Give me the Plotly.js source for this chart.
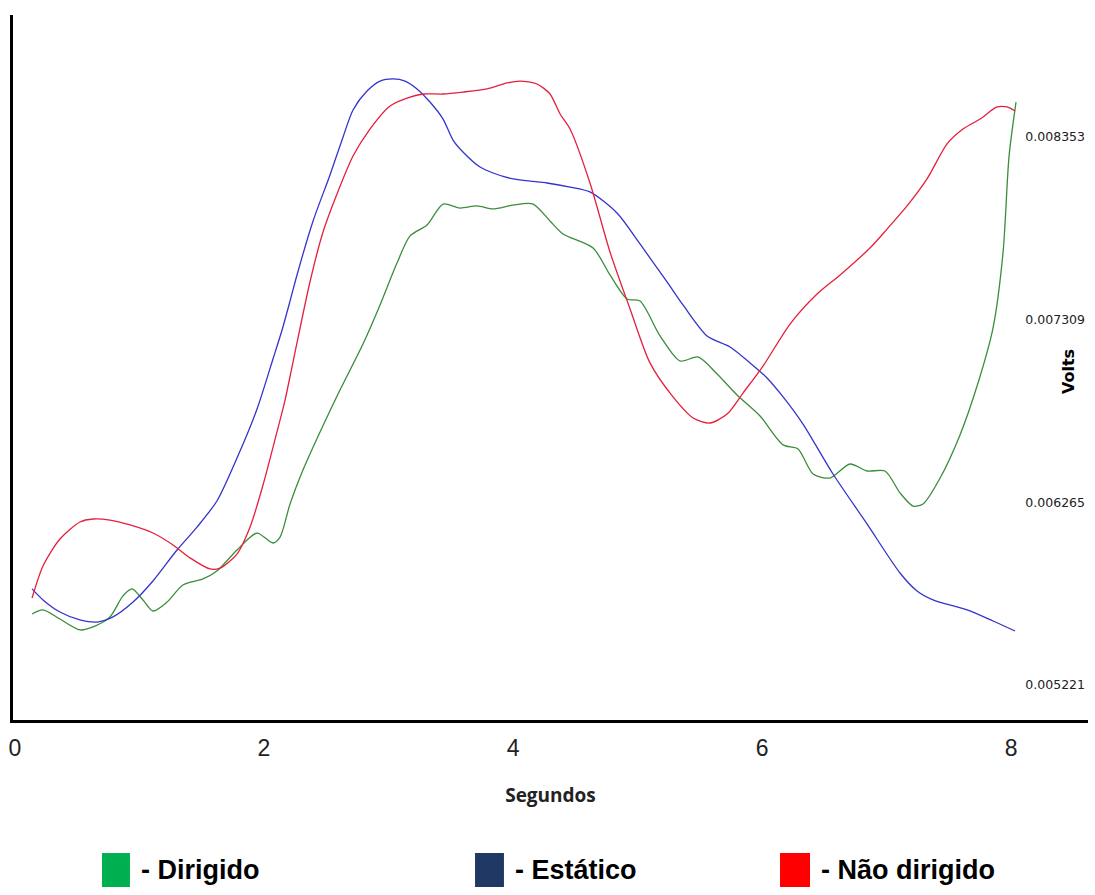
<!DOCTYPE html>
<html>
<head>
<meta charset="utf-8">
<script src="https://cdn.plot.ly/plotly-3.0.1.min.js"></script>
<style>html,body{margin:0;padding:0;background:#fff}#chart{width:1095px;height:895px}</style>
</head>
<body>
<div id="chart"></div>
<script>
// ---- data (seconds, volts) ----
const xDirigido = [0.137,0.225,0.361,0.522,0.627,0.763,0.867,0.940,1.028,1.108,1.221,1.349,1.510,1.622,1.783,1.944,2.072,2.129,2.209,2.313,2.450,2.610,2.795,2.932,3.068,3.173,3.309,3.438,3.574,3.711,3.839,4.000,4.161,4.297,4.402,4.643,4.779,4.916,5.020,5.181,5.341,5.486,5.639,5.799,5.984,6.169,6.289,6.410,6.546,6.707,6.843,6.988,7.108,7.213,7.293,7.430,7.590,7.727,7.855,7.936,7.984,8.040];
const yDirigido = [0.005627,0.005650,0.005598,0.005536,0.005553,0.005610,0.005730,0.005770,0.005707,0.005644,0.005695,0.005792,0.005827,0.005872,0.005992,0.006089,0.006032,0.006066,0.006255,0.006449,0.006666,0.006905,0.007168,0.007391,0.007630,0.007785,0.007847,0.007967,0.007944,0.007956,0.007939,0.007961,0.007967,0.007870,0.007796,0.007716,0.007562,0.007425,0.007413,0.007214,0.007071,0.007094,0.006997,0.006877,0.006757,0.006592,0.006569,0.006426,0.006403,0.006483,0.006443,0.006443,0.006318,0.006243,0.006255,0.006403,0.006649,0.006928,0.007259,0.007693,0.008241,0.008549];

const xEstatico = [0.137,0.225,0.361,0.522,0.659,0.787,0.948,1.108,1.301,1.462,1.622,1.783,1.944,2.072,2.145,2.209,2.265,2.394,2.530,2.635,2.715,2.827,2.932,3.036,3.133,3.229,3.333,3.438,3.518,3.598,3.735,3.839,4.000,4.137,4.273,4.458,4.618,4.835,5.020,5.237,5.365,5.558,5.743,5.904,6.040,6.169,6.329,6.570,6.843,7.108,7.245,7.373,7.647,7.855,8.032];
const yEstatico = [0.005770,0.005707,0.005638,0.005593,0.005581,0.005610,0.005695,0.005815,0.005992,0.006123,0.006272,0.006517,0.006797,0.007082,0.007248,0.007413,0.007562,0.007870,0.008133,0.008350,0.008504,0.008612,0.008669,0.008681,0.008669,0.008624,0.008549,0.008452,0.008332,0.008264,0.008178,0.008144,0.008110,0.008098,0.008087,0.008064,0.008036,0.007916,0.007739,0.007522,0.007391,0.007214,0.007151,0.007060,0.006974,0.006866,0.006711,0.006426,0.006141,0.005861,0.005758,0.005707,0.005650,0.005587,0.005530];

const xNaoDirigido = [0.137,0.225,0.361,0.522,0.627,0.763,0.924,1.108,1.269,1.406,1.566,1.647,1.783,1.888,1.992,2.104,2.169,2.233,2.369,2.474,2.586,2.715,2.851,3.012,3.149,3.277,3.438,3.598,3.791,3.952,4.056,4.193,4.297,4.378,4.458,4.618,4.779,4.940,5.100,5.285,5.446,5.582,5.719,5.847,6.008,6.225,6.442,6.627,6.867,7.004,7.165,7.325,7.486,7.614,7.751,7.888,7.968,8.032];
const yNaoDirigido = [0.005718,0.005901,0.006055,0.006152,0.006169,0.006163,0.006135,0.006089,0.006021,0.005947,0.005884,0.005889,0.005969,0.006123,0.006363,0.006666,0.006848,0.007065,0.007522,0.007807,0.008024,0.008241,0.008395,0.008527,0.008572,0.008595,0.008595,0.008606,0.008624,0.008658,0.008669,0.008652,0.008595,0.008481,0.008395,0.008087,0.007693,0.007368,0.007060,0.006866,0.006746,0.006717,0.006768,0.006888,0.007042,0.007282,0.007453,0.007562,0.007716,0.007824,0.007956,0.008110,0.008310,0.008395,0.008452,0.008521,0.008521,0.008498];

const xTickVals = [0, 2, 4, 6, 8];
const yTickVals = [0.005221, 0.006265, 0.007309, 0.008353];
const yTickText = ['0.005221', '0.006265', '0.007309', '0.008353'];

const seriesNames = ['Dirigido', 'Estático', 'Não dirigido'];
const lineColors = ['#3a8d3a', '#3434cc', '#e4203c'];
const legendColors = ['#00b050', '#1f3864', '#ff0000'];

// ---- traces ----
const xs = [xDirigido, xEstatico, xNaoDirigido];
const ys = [yDirigido, yEstatico, yNaoDirigido];
const traces = seriesNames.map((n, i) => ({
  type: 'scatter', mode: 'lines', name: n,
  x: xs[i], y: ys[i],
  yaxis: i === 2 ? 'y2' : 'y',
  line: {color: lineColors[i], width: 1.3, shape: 'spline', smoothing: 0.75},
  hoverinfo: 'x+y+name'
}));

const yRange = [0.0050218, 0.0090459];
const sans = 'Liberation Sans, Arial, sans-serif';

// legend (drawn below the plot)
const legX = [[0.0828, 0.1088], [0.4298, 0.4567], [0.7135, 0.7414]];
const shapes = legX.map((p, i) => ({
  type: 'rect', xref: 'paper', yref: 'paper',
  x0: p[0], x1: p[1], y0: -0.2369, y1: -0.1887,
  fillcolor: legendColors[i], line: {width: 0}
}));
const annotations = seriesNames.map((n, i) => ({
  xref: 'paper', yref: 'paper', x: legX[i][1] + 0.008, y: -0.2128,
  xanchor: 'left', yanchor: 'middle', showarrow: false,
  text: '- ' + n,
  font: {family: sans, size: 27, color: '#000', weight: 'bold'}
}));
annotations.push({
  xref: 'paper', yref: 'paper', x: 0.9814, y: 0.4936,
  xanchor: 'center', yanchor: 'middle', showarrow: false, textangle: -90,
  text: 'Volts',
  font: {family: 'DejaVu Sans', size: 16, color: '#000', weight: 'bold'}
});

const layout = {
  width: 1095, height: 895,
  margin: {l: 13, r: 7, t: 15, b: 175},
  paper_bgcolor: '#fff', plot_bgcolor: '#fff',
  showlegend: false,
  xaxis: {
    range: [-0.016, 8.618],
    tickvals: xTickVals,
    ticks: '', showgrid: false, zeroline: false,
    showline: true, linecolor: '#000', linewidth: 3,
    tickfont: {family: sans, size: 23, color: '#222'},
    ticklabelstandoff: 5,
    title: {text: 'Segundos', standoff: 30,
      font: {family: 'Open Sans, Liberation Sans, sans-serif', size: 19, color: '#222', weight: 'bold'}}
  },
  yaxis: {
    range: yRange,
    showticklabels: false, ticks: '', showgrid: false, zeroline: false,
    showline: true, linecolor: '#000', linewidth: 3
  },
  yaxis2: {
    range: yRange, overlaying: 'y', side: 'right', anchor: 'x',
    tickvals: yTickVals, ticktext: yTickText,
    ticklabelposition: 'inside',
    ticks: '', showgrid: false, zeroline: false, showline: false,
    tickfont: {family: 'DejaVu Sans', size: 12.5, color: '#222'}
  },
  shapes: shapes,
  annotations: annotations
};

Plotly.newPlot('chart', traces, layout, {displayModeBar: false, staticPlot: true});
</script>
</body>
</html>
